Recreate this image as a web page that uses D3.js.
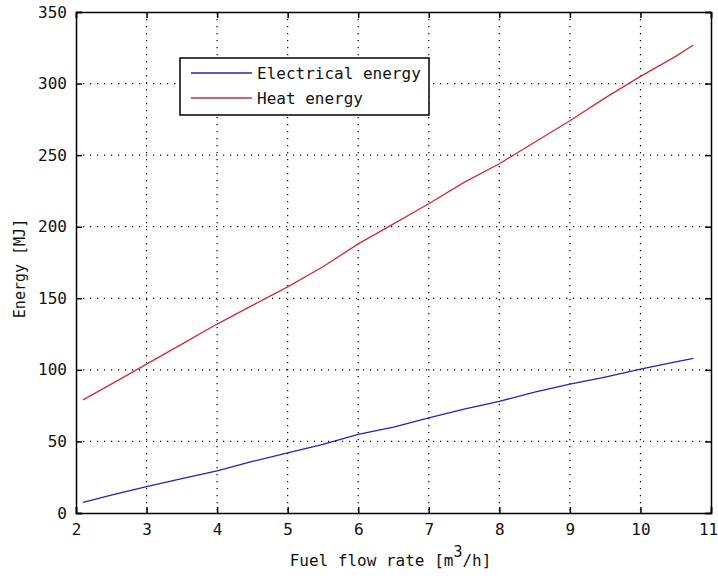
<!DOCTYPE html>
<html>
<head>
<meta charset="utf-8">
<script src="https://cdn.jsdelivr.net/npm/d3@7"></script>
<style>
  body { margin: 0; background: #fff; }
  svg { display: block; }
  text { font-family: "DejaVu Sans Mono", monospace; fill: #111; }
</style>
</head>
<body>
<script>
// flow rate samples [m3/h]
const flowRates = [2.1, 2.5, 3, 3.5, 4, 4.5, 5, 5.5, 6, 6.5, 7, 7.5, 8, 8.5, 9, 9.5, 10, 10.5, 10.75];
const electricalEnergy = [7.5, 12.5, 18.5, 24, 29.5, 36, 42, 48, 55, 60, 66.5, 72.5, 78, 84.5, 90, 95, 100.5, 105.5, 108];
const heatEnergy = [79, 90, 104, 118, 132, 145, 158, 172, 188, 202, 216, 231, 244, 259, 274, 290, 305, 319, 327];
const xTicks = [2, 3, 4, 5, 6, 7, 8, 9, 10, 11];
const yTicks = [0, 50, 100, 150, 200, 250, 300, 350];
const seriesNames = ["Electrical energy", "Heat energy"];
const seriesColors = ["#2323b5", "#d42a3a"];

const W = 718, H = 581;
const margin = { top: 12, right: 7, bottom: 68, left: 76 };
const width = W - margin.left - margin.right,
  height = H - margin.top - margin.bottom;

const svg = d3.select("body").append("svg")
  .attr("width", W)
  .attr("height", H);

const g = svg.append("g").attr("transform", `translate(${margin.left},${margin.top})`);

const x = d3.scaleLinear().domain([2, 11]).range([0, width]);
const y = d3.scaleLinear().domain([0, 350]).range([height, 0]);

// dotted grid
g.append("g").selectAll("line")
  .data(xTicks.slice(1, -1))
  .enter().append("line")
  .attr("x1", d => x(d)).attr("x2", d => x(d))
  .attr("y1", 0).attr("y2", height)
  .attr("stroke", "#000").attr("stroke-width", 1.2)
  .attr("stroke-dasharray", "1.2,5.8");

g.append("g").selectAll("line")
  .data(yTicks.slice(1, -1))
  .enter().append("line")
  .attr("y1", d => y(d)).attr("y2", d => y(d))
  .attr("x1", 0).attr("x2", width)
  .attr("stroke", "#000").attr("stroke-width", 1.2)
  .attr("stroke-dasharray", "1.2,5.8");

// axes with inward ticks on all sides
const fontSize = "16px";
const bottomAxis = g.append("g")
  .attr("transform", `translate(0,${height})`)
  .call(d3.axisBottom(x).tickValues(xTicks).tickSize(-6).tickPadding(14));
const leftAxis = g.append("g")
  .call(d3.axisLeft(y).tickValues(yTicks).tickSize(-6).tickPadding(14));
const topAxis = g.append("g")
  .call(d3.axisTop(x).tickValues(xTicks).tickSize(-6).tickFormat(""));
const rightAxis = g.append("g")
  .attr("transform", `translate(${width},0)`)
  .call(d3.axisRight(y).tickValues(yTicks).tickSize(-6).tickFormat(""));

[bottomAxis, leftAxis, topAxis, rightAxis].forEach(a => {
  a.select(".domain").attr("stroke", "#000").attr("stroke-width", 1.5);
  a.selectAll(".tick line").attr("stroke", "#000").attr("stroke-width", 1.5);
  a.selectAll("text").style("font-family", "DejaVu Sans Mono, monospace")
    .style("font-size", fontSize).attr("fill", "#222");
});
bottomAxis.selectAll("text").attr("dy", "0.71em").attr("y", 11)
  .attr("x", d => d === 11 ? -3 : 0);
leftAxis.selectAll("text").attr("x", -9);

// lines
const series = [electricalEnergy, heatEnergy];
const line = d3.line()
  .x((d, i) => x(flowRates[i]))
  .y(d => y(d));

series.forEach((s, k) => {
  g.append("path")
    .datum(s)
    .attr("fill", "none")
    .attr("stroke", seriesColors[k])
    .attr("stroke-width", 1.3)
    .attr("d", line);
});

// legend
const legend = svg.append("g").attr("transform", "translate(180,58)");
legend.append("rect")
  .attr("width", 249).attr("height", 57)
  .attr("fill", "#fff").attr("stroke", "#000").attr("stroke-width", 1.5);
seriesNames.forEach((name, k) => {
  const cy = 15 + k * 25;
  legend.append("line")
    .attr("x1", 11).attr("x2", 72)
    .attr("y1", cy).attr("y2", cy)
    .attr("stroke", seriesColors[k]).attr("stroke-width", 1.3);
  legend.append("text")
    .attr("x", 77).attr("y", cy)
    .attr("dy", "0.35em")
    .style("font-size", fontSize)
    .text(name);
});

// axis titles
const xt = svg.append("text")
  .attr("x", margin.left + width / 2 - 3)
  .attr("y", 566)
  .attr("text-anchor", "middle")
  .style("font-size", "16px");
xt.append("tspan").text("Fuel flow rate [m");
xt.append("tspan").attr("dy", -9).style("font-size", "15px").text("3");
xt.append("tspan").attr("dy", 9).text("/h]");

svg.append("text")
  .attr("transform", `translate(25,${margin.top + height / 2 + 6}) rotate(-90)`)
  .attr("text-anchor", "middle")
  .style("font-size", "15px")
  .text("Energy [MJ]");
</script>
</body>
</html>
